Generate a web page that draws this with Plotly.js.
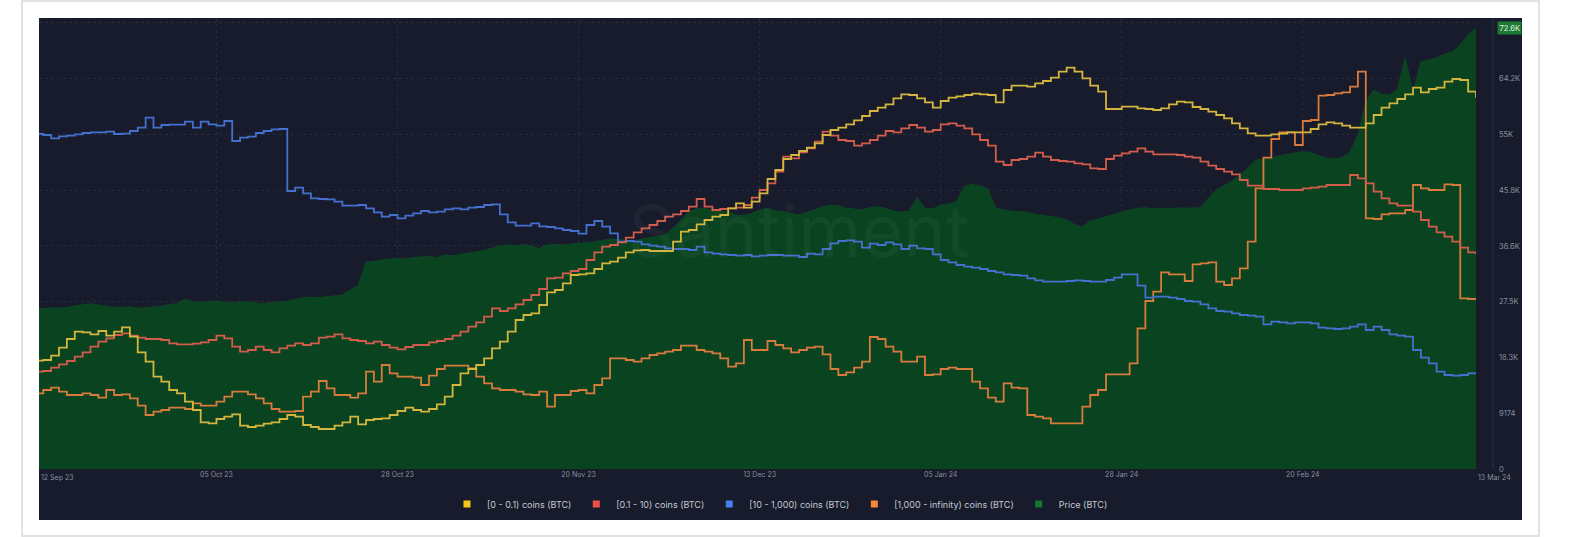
<!DOCTYPE html>
<html><head><meta charset="utf-8">
<script src="https://cdn.plot.ly/plotly-3.0.1.min.js"></script>
<style>html,body{margin:0;padding:0;background:#fff;}#chart{width:1584px;height:537px;}</style>
</head><body><div id="chart"></div>
<script>
// ---------- data (daily, starting 12 Sep 2023) ----------
const startDate = '2023-09-12';

const priceBTC = [
26320,26430,26540,26430,26650,26760,27090,27200,26980,26760,
26650,26540,26710,26430,26540,26650,26760,27090,27200,27970,
27530,27420,27530,27640,27420,27310,27530,27420,27200,27200,
27420,27420,27640,27970,28190,28300,28190,28350,28520,28630,
29450,30160,34000,34220,34390,34550,34660,34550,34770,34880,
34990,34770,35210,35100,35320,35430,35650,35980,36300,36740,
36850,36740,36960,36580,36300,36850,36960,36850,36960,37070,
37180,37400,37620,37840,37840,37680,37400,37840,38060,38220,
38500,39590,40970,42340,42780,42890,42610,42450,42340,41790,
41680,42060,42610,42890,42450,42340,42060,41790,42230,42610,
43160,43430,43320,42890,42780,42610,43000,43160,42890,42450,
42230,42450,44640,42890,42780,43430,43540,43980,46450,46830,
46610,46070,42890,42610,42450,42340,42230,41900,41680,41510,
41350,40970,40250,39810,40800,41130,41510,41790,42230,42610,
42890,43000,42780,42890,42780,43000,42890,42890,43000,44530,
45900,46610,47380,48370,49470,50840,51000,51220,51550,51770,
52100,52210,52100,51660,51110,51000,51220,52100,54950,60320,
62350,61640,61530,62350,67670,62080,67010,67290,67670,68220,
68660,69760,71400,72600];

// holder-band balances, relative index (hidden scale)
const band0to01 = [
32.5,32.7,34.0,36.4,39.0,41.2,41.0,40.4,41.4,40.0,
41.2,42.5,39.7,35.0,32.2,27.7,26.2,23.7,22.7,20.2,
17.7,14.0,13.7,15.0,15.7,16.4,13.0,12.6,13.0,13.6,
14.0,15.0,16.2,15.7,13.2,12.6,12.0,
12.0,13.0,14.0,15.7,13.4,14.7,15.0,15.2,16.2,17.4,
18.4,17.7,17.2,18.0,19.4,21.7,25.2,28.7,30.0,31.2,
33.2,36.2,38.2,41.2,44.7,46.2,46.7,49.2,53.0,53.7,
55.7,58.2,58.4,58.7,60.0,61.7,62.2,
63.4,65.0,65.6,65.7,65.4,65.4,65.4,68.2,71.2,71.7,
73.4,74.7,75.7,76.2,78.2,79.7,78.4,80.2,82.7,87.0,
89.7,93.0,94.2,95.4,96.4,97.7,100.2,101.7,102.4,103.4,
104.6,105.9,107.4,108.4,109.4,111.2,112.4,
112.2,111.2,110.0,108.4,110.4,111.4,111.8,112.2,112.6,112.4,
112.2,110.0,113.7,115.0,115.0,114.7,115.7,116.4,117.4,119.2,
120.4,119.2,117.2,115.0,113.2,108.0,108.0,108.7,108.7,108.2,
108.0,107.7,108.2,109.4,110.2,110.0,108.6,
108.0,107.2,106.2,105.2,103.7,102.2,100.7,100.0,100.0,100.4,
100.6,101.0,101.0,101.0,102.0,103.4,104.0,103.7,103.0,102.4,
102.4,103.7,106.2,108.4,109.7,111.0,112.4,114.4,113.0,114.0,
114.4,116.2,117.0,116.7,113.2,111.4];

const band01to10 = [
29.2,29.4,30.4,31.4,32.4,33.7,35.0,36.7,38.2,39.2,
40.2,40.7,40.0,39.4,39.0,39.0,38.7,37.7,37.4,37.4,
37.6,38.0,38.7,40.0,39.2,36.7,35.2,35.7,36.7,35.7,
35.0,36.2,37.0,37.7,37.2,37.7,39.4,
39.7,40.4,39.2,38.7,38.4,37.7,38.2,37.2,36.4,35.9,
36.6,37.2,37.2,38.0,38.4,39.0,40.0,41.2,42.7,44.0,
45.7,48.2,47.4,48.2,49.4,50.7,52.2,54.0,57.2,57.4,
58.7,59.4,60.0,62.7,65.0,66.7,67.2,
68.0,69.4,71.0,72.2,73.2,74.4,75.7,76.4,77.4,78.7,
81.0,78.7,77.7,78.0,78.2,78.4,79.2,81.4,83.7,85.7,
89.2,93.7,93.2,95.0,96.2,98.2,101.2,100.0,98.7,98.4,
97.0,97.7,98.7,100.0,101.4,101.0,102.2,
103.2,102.4,101.2,101.7,103.4,103.7,103.0,102.2,100.4,98.7,
97.0,92.2,91.2,92.7,93.0,93.7,94.9,93.7,92.7,92.4,
92.2,91.7,91.4,90.2,90.0,93.0,94.0,94.7,95.2,96.2,
95.2,94.4,94.4,94.4,94.2,93.7,93.4,
92.2,91.0,90.0,89.2,88.4,86.7,85.0,85.0,84.0,84.0,
83.7,83.7,83.7,84.2,84.4,84.7,85.2,85.2,85.2,88.2,
87.2,85.7,83.2,81.2,79.7,79.0,79.0,77.2,74.7,72.7,
71.0,69.7,68.2,66.4,65.0,64.4];

const band10to1000 = [
100.5,100.2,99.2,99.8,100.0,100.4,100.8,101.0,101.0,101.2,
100.5,100.6,101.4,102.4,105.4,102.4,103.2,103.3,103.3,104.2,
102.4,104.2,103.4,103.0,104.4,98.4,99.4,99.7,100.8,101.4,
101.9,102.0,83.4,84.4,82.7,81.2,81.0,
80.9,80.2,79.0,79.0,79.2,78.2,77.0,75.7,76.2,75.2,
76.0,76.7,77.4,77.0,77.2,77.9,78.2,77.9,78.4,78.6,
79.2,79.4,76.4,74.0,73.0,73.0,73.7,72.8,72.6,72.2,
71.7,71.4,70.6,73.2,74.4,72.7,70.7,
68.2,68.4,68.2,67.4,67.0,66.7,66.2,66.0,66.0,65.7,
66.7,65.0,64.6,64.4,64.2,64.0,64.2,63.8,64.0,64.2,
64.2,64.0,64.0,63.6,64.6,64.4,66.0,67.7,68.4,68.6,
68.2,66.4,67.6,67.2,68.0,67.4,66.0,
67.0,66.2,66.0,64.4,62.7,62.0,61.2,60.7,60.4,60.0,
59.4,59.0,58.4,58.2,58.0,57.2,56.6,56.2,56.2,56.2,
56.4,56.6,56.4,56.2,56.2,56.7,57.4,58.4,58.4,55.0,
51.4,51.7,51.7,51.4,51.0,50.4,50.2,
49.4,48.2,47.4,47.2,46.7,46.2,46.0,45.7,43.4,44.2,
44.0,43.7,44.0,44.0,43.7,42.4,42.2,42.0,42.2,42.7,
43.4,41.7,42.7,41.7,40.4,40.0,39.7,35.7,33.4,31.7,
29.2,28.2,28.0,28.2,28.7,28.7];

const band1000plus = [
22.7,23.7,24.4,23.2,22.2,22.2,22.7,22.2,21.4,23.7,
22.2,22.4,21.2,19.0,16.2,17.2,17.7,18.4,18.4,18.0,
19.7,19.0,19.0,20.2,21.7,23.2,23.2,22.4,21.2,19.7,
18.0,17.2,17.2,17.4,21.7,23.2,26.4,
24.2,22.2,22.2,21.4,22.7,29.2,26.2,31.2,28.7,27.7,
27.7,27.4,25.2,28.0,30.0,31.0,31.0,31.0,30.2,27.7,
25.7,24.2,23.7,23.7,23.2,22.4,22.2,23.2,18.7,22.2,
22.2,23.4,23.7,22.7,25.2,27.2,33.2,
33.2,32.7,32.2,33.2,34.2,34.7,35.2,35.7,37.0,37.0,
35.7,35.2,34.7,33.2,30.7,31.7,38.7,35.7,35.7,38.4,
37.2,36.2,35.0,35.7,36.4,36.7,34.4,30.0,28.2,29.0,
30.4,32.2,39.6,39.0,36.7,35.2,32.2,
32.2,33.7,28.2,28.4,30.0,30.4,30.0,30.0,26.2,24.2,
21.4,20.2,25.7,24.4,24.2,16.2,15.7,15.2,13.7,13.7,
13.7,13.7,18.7,22.2,23.7,28.4,28.4,28.4,31.7,42.2,
50.4,53.2,59.0,58.4,58.4,56.4,61.4,
61.7,62.0,56.2,55.2,57.2,60.2,68.2,84.2,93.4,99.0,
101.0,101.0,97.2,104.4,104.7,112.0,112.2,112.7,113.0,114.7,
119.2,75.2,75.0,76.4,76.7,76.7,77.7,85.2,84.2,83.7,
83.7,85.4,85.2,51.2,51.0,51.0];

const seriesNames = ['[0 - 0.1) coins (BTC)','[0.1 - 10) coins (BTC)','[10 - 1,000) coins (BTC)','[1,000 - infinity) coins (BTC)','Price (BTC)'];
const dateTickVals = ['2023-10-05','2023-10-28','2023-11-20','2023-12-13','2024-01-05','2024-01-28','2024-02-20'];
const dateTickText = ['05 Oct 23','28 Oct 23','20 Nov 23','13 Dec 23','05 Jan 24','28 Jan 24','20 Feb 24'];
const firstDateLabel = '12 Sep 23';
const lastDateLabel = '13 Mar 24';
const priceTickVals = [0,9174,18348,27522,36696,45870,55044,64218,73392];
const priceTickText = ['0','9174','18.3K','27.5K','36.6K','45.8K','55K','64.2K',''];
const lastPriceLabel = '72.6K';

// ---------- build ----------
function buildDates(start, n){
  const out=[]; const t0=Date.parse(start+'T00:00:00Z');
  for(let i=0;i<n;i++) out.push(new Date(t0+i*86400000).toISOString().slice(0,10));
  return out;
}
const dates = buildDates(startDate, priceBTC.length);

const lineColors = ['#d4b53e','#d45c4c','#4470d0','#d87b3c'];
const legendColors = ['#f4c61c','#f0504a','#4b7cf2','#f58a3c','#137a2d'];
const bands = [band1000plus, band10to1000, band01to10, band0to01];
const bandColors = [lineColors[3], lineColors[2], lineColors[1], lineColors[0]];

const traces = [];
traces.push({x:dates, y:priceBTC, type:'scatter', mode:'lines', fill:'tozeroy',
  fillcolor:'#0a4320', line:{color:'#0c4a24', width:0.8}, showlegend:false, hoverinfo:'skip'});
bands.forEach((b,i)=>{
  traces.push({x:dates, y:b, type:'scatter', mode:'lines', yaxis:'y2',
    line:{color:bandColors[i], width:1.8, shape:'hv'}, showlegend:false, hoverinfo:'skip'});
});
seriesNames.forEach((n,i)=>{
  traces.push({x:[null], y:[null], type:'scatter', mode:'markers', name:n,
    marker:{symbol:'square', size:7, color:legendColors[i]}, hoverinfo:'skip'});
});

const W=1584, H=537, L=39, R=108, T=18, B=68;
const pw = W-L-R, ph = H-T-B;
const px = v => (v-L)/pw;          // page x -> paper
const py = v => (H-B-v)/ph;        // page y -> paper

const tickFont = {family:'Inter, "Open Sans", sans-serif', size:7, color:'#8b90a0'};

const layout = {
  width:W, height:H,
  margin:{l:L, r:R, t:T, b:B, pad:0},
  paper_bgcolor:'#ffffff', plot_bgcolor:'#171b2b',
  font:{family:'Inter, "Open Sans", sans-serif', color:'#c6c9d3'},
  xaxis:{type:'date', range:['2023-09-12 11:00','2024-03-13 00:00'],
    tickvals:dateTickVals, ticktext:dateTickText, tickfont:tickFont,
    showgrid:true, gridcolor:'#262b3e', griddash:'dot', gridwidth:1,
    zeroline:false, showline:false, ticks:'', fixedrange:true},
  yaxis:{side:'right', range:[0,74200], tickvals:priceTickVals, ticktext:priceTickText,
    tickfont:{family:tickFont.family, size:7.5, color:'#8b90a0'},
    showgrid:true, gridcolor:'#262b3e', griddash:'dot', gridwidth:1,
    zeroline:false, showline:false, ticks:'', ticklabelstandoff:22, fixedrange:true},
  yaxis2:{overlaying:'y', range:[0,135.3], visible:false, fixedrange:true},
  showlegend:true,
  legend:{orientation:'h', x:px(780), xanchor:'center', y:py(504), yanchor:'middle',
    font:{size:9, color:'#c6c9d3'}, bgcolor:'rgba(0,0,0,0)', itemwidth:30, tracegroupgap:0},
  shapes:[
    {type:'rect', xref:'paper', yref:'paper', x0:px(22), x1:px(1539), y0:py(536), y1:py(1),
      line:{color:'#d9d9d9', width:1.5}, fillcolor:'#ffffff', layer:'below'},
    {type:'rect', xref:'paper', yref:'paper', x0:px(39), x1:px(1522), y0:py(520), y1:py(18),
      line:{width:0}, fillcolor:'#171b2b', layer:'below'},
    {type:'line', xref:'paper', yref:'paper', x0:px(1493), x1:px(1493), y0:0, y1:1,
      line:{color:'#242a3c', width:1.5}}
  ],
  annotations:[
    {xref:'paper', yref:'paper', x:px(798), y:py(230), text:'Santiment', showarrow:false,
      font:{family:'Inter, sans-serif', size:72, color:'rgba(255,255,255,0.04)'}, xanchor:'center', yanchor:'middle'},
    {xref:'paper', yref:'y', x:px(1497), y:priceBTC[priceBTC.length-1], text:lastPriceLabel, showarrow:false,
      xanchor:'left', yanchor:'middle', bgcolor:'#1b7a33', borderpad:1.5,
      font:{family:tickFont.family, size:7.5, color:'#e6f4e8'}},
    {xref:'paper', yref:'paper', x:0, y:py(477), text:firstDateLabel, showarrow:false,
      xanchor:'left', yanchor:'middle', font:tickFont},
    {xref:'paper', yref:'paper', x:1, y:py(477), text:lastDateLabel, showarrow:false,
      xanchor:'left', yanchor:'middle', font:tickFont}
  ]
};

Plotly.newPlot('chart', traces, layout, {displayModeBar:false, staticPlot:true});
</script></body></html>
